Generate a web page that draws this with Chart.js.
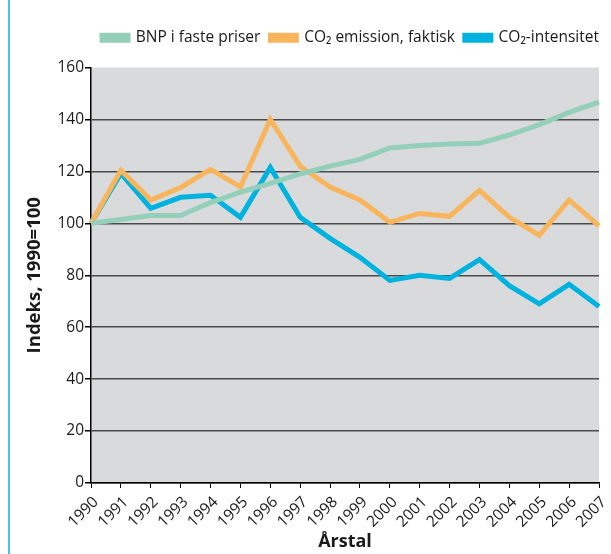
<!DOCTYPE html>
<html>
  <head>
    <meta charset="utf-8">
    <script src="https://cdn.jsdelivr.net/npm/chart.js"></script>
    <style>
      html, body { margin: 0; padding: 0; background: #fff; }
      #wrap { width: 611px; height: 554px; }
    </style>
  </head>
  <body>
    <div id="wrap"><canvas id="chart" width="611" height="554"></canvas></div>
    <script>
      const years = ["1990", "1991", "1992", "1993", "1994", "1995", "1996", "1997", "1998",
        "1999", "2000", "2001", "2002", "2003", "2004", "2005", "2006", "2007"];
      const bnp = [100, 101.5, 103, 103, 108, 112, 115.4, 119, 122, 124.6, 129, 130, 130.5, 130.8, 134, 138, 142.7, 146.7];
      const co2Emission = [100, 120.4, 109, 113.8, 120.8, 114, 140, 122, 114, 109, 100.4, 103.8, 102.7, 112.7, 102.3, 95.4, 109, 99];
      const co2Intensitet = [100, 119.2, 105.8, 110, 110.8, 102.3, 121.5, 102.3, 94.2, 86.9, 78, 80, 78.8, 86, 76, 69, 76.5, 68];
      const yTicks = [0, 20, 40, 60, 80, 100, 120, 140, 160];

      const fontFamily = "'Open Sans', 'DejaVu Sans', sans-serif";
      Chart.defaults.font.family = fontFamily;
      Chart.defaults.font.size = 15.5;
      Chart.defaults.color = '#1a1a1a';

      // grey plot background + light blue frame line on the left
      const background = {
        id: 'background',
        afterInit(chart) {
          // more room under the legend
          const legend = chart.legend;
          const fit = legend.fit;
          legend.fit = function () {
            fit.call(this);
            this.height += 12;
          };
        },
        afterLayout(chart) {
          // legend sits a little further right than the plot edge
          chart.legend.left += 10;
          chart.legend.right += 10;
        },
        beforeDraw(chart) {
          const { ctx, chartArea } = chart;
          ctx.save();
          ctx.fillStyle = '#d9dadc';
          ctx.fillRect(chartArea.left, chartArea.top, chartArea.right - chartArea.left, chartArea.bottom - chartArea.top);
          ctx.strokeStyle = '#4cc3e6';
          ctx.lineWidth = 2;
          ctx.beginPath();
          ctx.moveTo(9, 0);
          ctx.lineTo(9, chart.height);
          ctx.stroke();
          ctx.restore();
        }
      };

      const ctx = document.getElementById('chart').getContext('2d');
      new Chart(ctx, {
        type: 'line',
        data: {
          labels: years,
          datasets: [
            {
              label: 'BNP i faste priser',
              data: bnp,
              borderColor: '#94d0b9',
              backgroundColor: '#94d0b9',
              borderWidth: 5,
              pointRadius: 0,
              tension: 0,
            },
            {
              label: 'CO\u2082 emission, faktisk',
              data: co2Emission,
              borderColor: '#f8b55c',
              backgroundColor: '#f8b55c',
              borderWidth: 5,
              pointRadius: 0,
              tension: 0,
            },
            {
              label: 'CO\u2082-intensitet',
              data: co2Intensitet,
              borderColor: '#00b3df',
              backgroundColor: '#00b3df',
              borderWidth: 5,
              pointRadius: 0,
              tension: 0,
            },
          ],
        },
        options: {
          responsive: false,
          animation: false,
          layout: {
            padding: { top: 20, right: 12, left: 24, bottom: 1 }
          },
          plugins: {
            legend: {
              position: 'top',
              align: 'end',
              labels: {
                boxWidth: 26,
                boxHeight: 5,
                padding: 10,
                color: '#1a1a1a',
                font: { size: 15.5 }
              }
            },
            tooltip: { enabled: false }
          },
          scales: {
            x: {
              offset: false,
              afterFit(axis) {
                axis.height = 70;
                axis.paddingRight = 0;
                axis.paddingLeft = 0;
              },
              grid: {
                drawOnChartArea: false,
                color: '#000',
                tickLength: 5,
              },
              border: { color: '#000', width: 1.5 },
              ticks: {
                minRotation: 45,
                maxRotation: 45,
                autoSkip: false,
                padding: 5,
                labelOffset: 5,
              },
              title: {
                display: true,
                text: 'Årstal',
                font: { size: 18, weight: 'bold' },
                padding: { top: 0, bottom: 0 }
              }
            },
            y: {
              min: 0,
              max: 160,
              afterBuildTicks(axis) {
                axis.ticks = yTicks.map(v => ({ value: v }));
              },
              afterFit(axis) {
                axis.width = 67;
              },
              grid: {
                color: (c) => (c.tick && c.tick.value === 160) ? 'rgba(0,0,0,0)' : '#4a4a4a',
                lineWidth: 1.5,
                tickColor: '#000',
                tickLength: 6,
              },
              border: { color: '#000', width: 1.5 },
              ticks: {
                padding: 1,
              },
              title: {
                display: true,
                text: 'Indeks, 1990=100',
                font: { size: 18.5, weight: 'bold' },
                padding: { top: 0, bottom: 2 }
              }
            }
          }
        },
        plugins: [background]
      });
    </script>
  </body>
</html>
